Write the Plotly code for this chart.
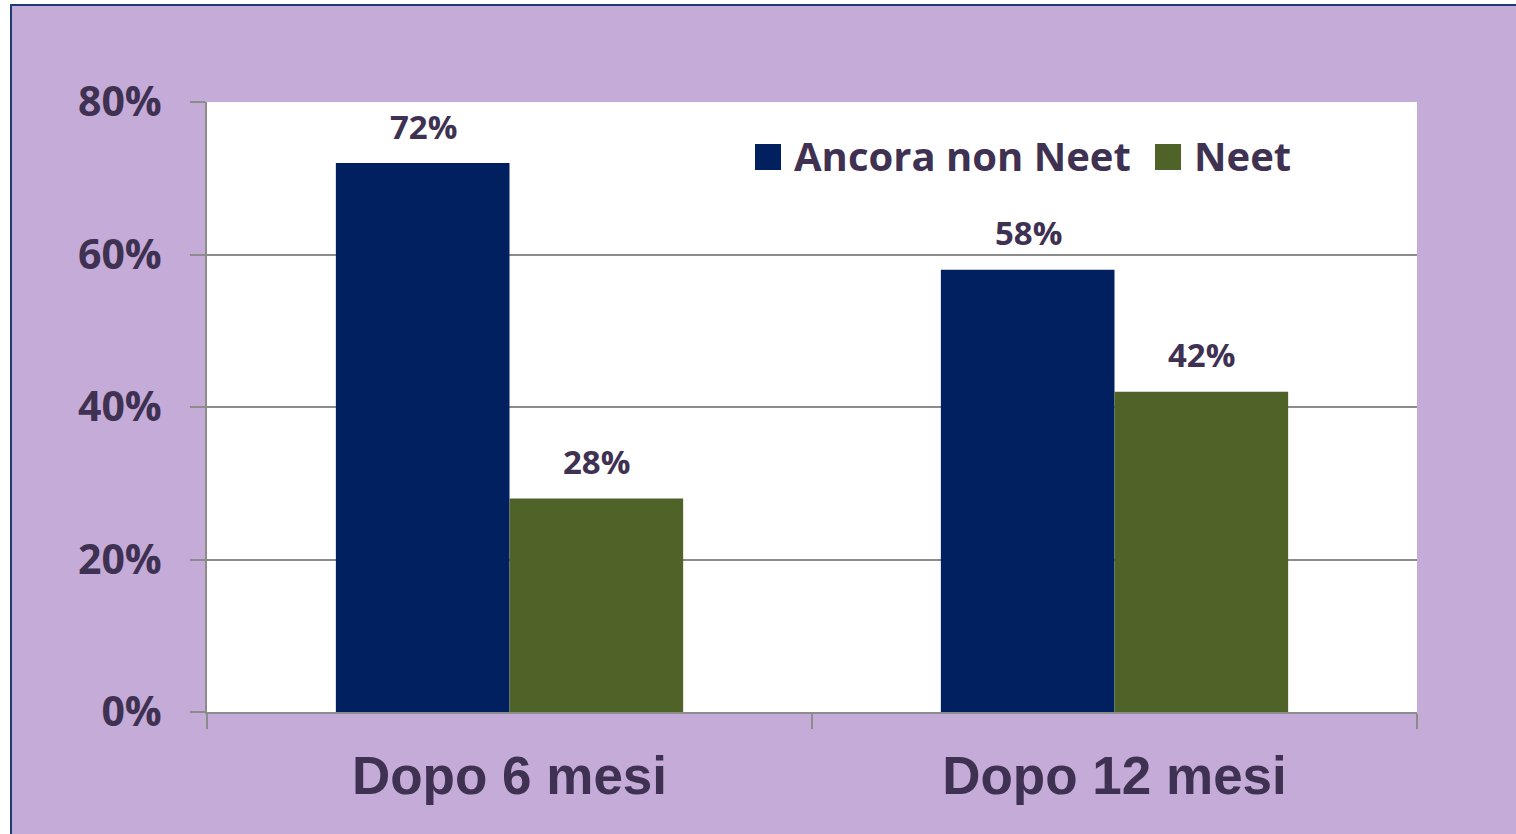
import plotly.graph_objects as go

categories = ["Dopo 6 mesi", "Dopo 12 mesi"]
series_names = ["Ancora non Neet", "Neet"]
ancora_non_neet = [72, 58]
neet = [28, 42]
y_ticks = [0, 20, 40, 60, 80]
y_tick_labels = ["0%", "20%", "40%", "60%", "80%"]

W, H = 1516, 834
L, R, T, B = 207, 99, 102, 122
PW, PH = W - L - R, H - T - B

def px_x(X):
    return (X - L) / PW

def px_y(Y):
    return (H - B - Y) / PH

NAVY = "#002060"
GREEN = "#4F6228"
TXT = "#3F3151"
BG = "#C5ABD8"
GRID = "#8C8C8C"
CAL = "Open Sans, Lato, sans-serif"

fig = go.Figure()
colors = [NAVY, GREEN]
for name, vals, col in zip(series_names, [ancora_non_neet, neet], colors):
    fig.add_trace(go.Bar(x=categories, y=vals, name=name, marker=dict(color=col, line=dict(width=0)),
                         showlegend=False, hoverinfo="skip"))

annotations = []
bar_half = 86.5
for vals, sh in [(ancora_non_neet, -bar_half), (neet, bar_half)]:
    for c, v in zip(categories, vals):
        annotations.append(dict(x=c, y=v, xref="x", yref="y", text=f"{v}%", showarrow=False,
                                xshift=sh, yshift=37, yanchor="middle",
                                font=dict(family=CAL, size=33, color=TXT, weight="bold")))

shapes = []
# outer white strips and navy frame
shapes.append(dict(type="rect", xref="paper", yref="paper", x0=px_x(-5), x1=px_x(10), y0=px_y(H + 5), y1=px_y(-5),
                   fillcolor="white", line=dict(width=0), layer="above"))
shapes.append(dict(type="rect", xref="paper", yref="paper", x0=px_x(-5), x1=px_x(W + 5), y0=px_y(4), y1=px_y(-5),
                   fillcolor="white", line=dict(width=0), layer="above"))
shapes.append(dict(type="path", xref="paper", yref="paper",
                   path=f"M{px_x(11)},{px_y(H + 5)} L{px_x(11)},{px_y(5)} L{px_x(W + 5)},{px_y(5)}",
                   line=dict(color="#1F3A78", width=2), layer="above"))

# custom legend
leg_items = [(755, 795, series_names[0], NAVY), (1155, 1195, series_names[1], GREEN)]
for sx, tx, name, col in leg_items:
    shapes.append(dict(type="rect", xref="paper", yref="paper", x0=px_x(sx), x1=px_x(sx + 26),
                       y0=px_y(170), y1=px_y(144), fillcolor=col, line=dict(width=0), layer="above"))
    annotations.append(dict(x=px_x(tx - 3), y=px_y(155), xref="paper", yref="paper", text=name, showarrow=False,
                            xanchor="left", yanchor="middle",
                            font=dict(family=CAL, size=40, color=TXT, weight="bold")))

fig.update_layout(
    width=W, height=H, autosize=False,
    margin=dict(l=L, r=R, t=T, b=B, pad=0),
    paper_bgcolor=BG, plot_bgcolor="white",
    barmode="group", bargap=0.426, bargroupgap=0,
    showlegend=False,
    shapes=shapes, annotations=annotations,
    xaxis=dict(showgrid=False, showline=True, linecolor=GRID, linewidth=2,
               ticks="outside", ticklen=15, tickwidth=2, tickcolor=GRID, tickson="boundaries",
               tickfont=dict(family="Arial, Liberation Sans, sans-serif", size=53, color=TXT, weight="bold"),
               ticklabelstandoff=16, fixedrange=True),
    yaxis=dict(range=[0, 80], tickvals=y_ticks, ticktext=y_tick_labels,
               showgrid=True, gridcolor=GRID, gridwidth=1.5, zeroline=False,
               showline=True, linecolor=GRID, linewidth=2,
               ticks="outside", ticklen=15, tickwidth=2, tickcolor=GRID,
               tickfont=dict(family=CAL, size=41, color=TXT, weight="bold"),
               ticklabelstandoff=20, fixedrange=True),
)

fig.write_html("out.html", config={"displayModeBar": False},
               post_script="document.body.style.margin='0';document.body.style.overflow='hidden';")
